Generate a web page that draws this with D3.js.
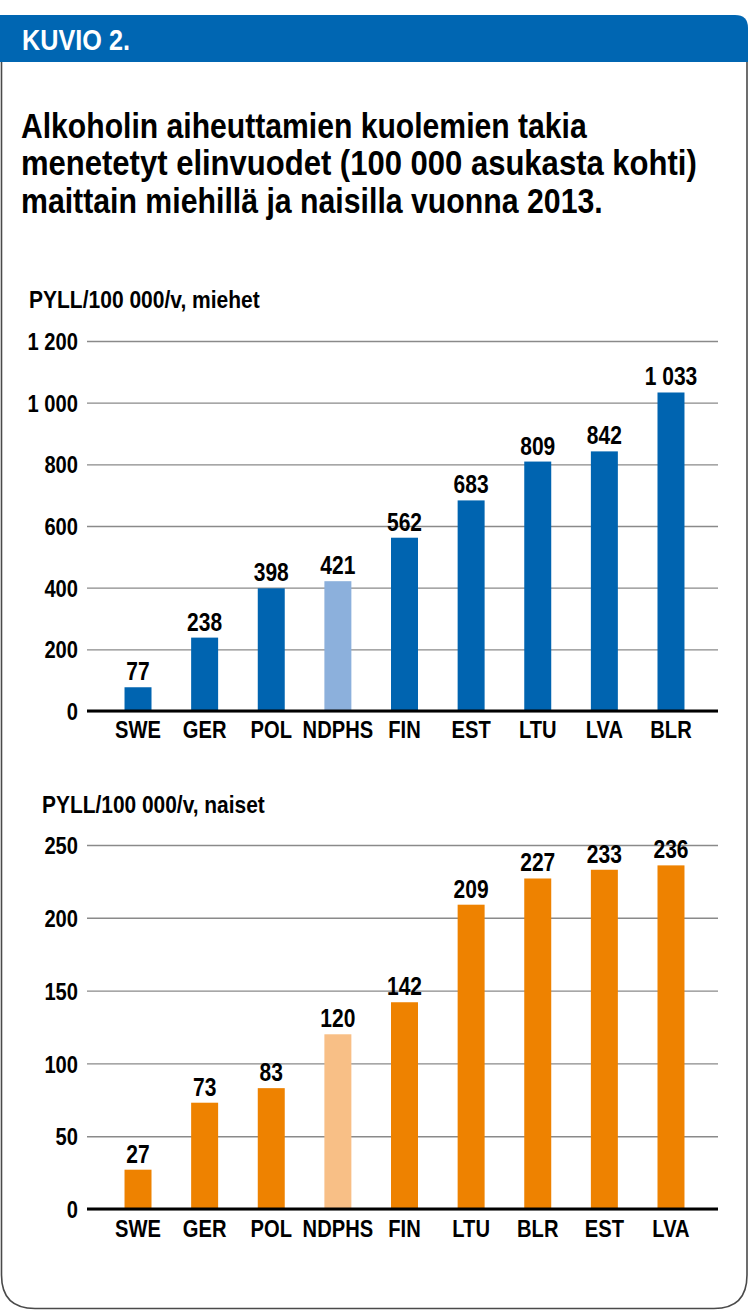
<!DOCTYPE html>
<html><head><meta charset="utf-8">
<script src="https://cdn.jsdelivr.net/npm/d3@7"></script>
<style>
html,body{margin:0;padding:0;background:#fff;}
svg{display:block;}
text{font-family:"Liberation Sans","Arimo",Arial,sans-serif;font-weight:bold;}
</style></head>
<body>
<svg id="c" width="749" height="1314"></svg>
<script>
const header = "KUVIO 2.";
const titleLines = ["Alkoholin aiheuttamien kuolemien takia","menetetyt elinvuodet (100 000 asukasta kohti)","maittain miehillä ja naisilla vuonna 2013."];
const menTitle = "PYLL/100 000/v, miehet";
const menCats = ["SWE","GER","POL","NDPHS","FIN","EST","LTU","LVA","BLR"];
const menVals = [77,238,398,421,562,683,809,842,1033];
const menTicks = [0,200,400,600,800,1000,1200];
const womenTitle = "PYLL/100 000/v, naiset";
const womenCats = ["SWE","GER","POL","NDPHS","FIN","LTU","BLR","EST","LVA"];
const womenVals = [27,73,83,120,142,209,227,233,236];
const womenTicks = [0,50,100,150,200,250];
const highlight = "NDPHS";

const svg = d3.select("#c");
const fmt = d3.formatLocale({decimal:",",thousands:"\u00a0",grouping:[3],currency:["","€"]}).format(",d");
const SX = 0.84;
function squeeze(sel, sx){
  sel.each(function(){
    const t = d3.select(this);
    const x = +(t.attr("x")||0);
    t.attr("x", x/sx).attr("transform", `scale(${sx},1)`);
  });
}
function fitWidth(sel, w){
  sel.each(function(){
    const sx = w/this.getComputedTextLength();
    squeeze(d3.select(this), sx);
  });
}

// card frame
svg.append("path")
  .attr("d","M1.5,62 L1.5,1275 Q1.5,1308.5 35,1308.5 L714,1308.5 Q747,1308.5 747,1275 L747,62")
  .attr("fill","none").attr("stroke","#4a4a4a").attr("stroke-width",1.6);
svg.append("path")
  .attr("d","M0,15 L735,15 Q748,15 748,28 L748,62 L0,62 Z")
  .attr("fill","#0066b2");
const ht = svg.append("text").attr("x",22).attr("y",50).attr("fill","#fff")
  .style("font-size","30px").text(header);
fitWidth(ht, 108);

const titleW = [566,676,582];
svg.append("g").selectAll("text").data(titleLines).join("text")
  .attr("x",21).attr("y",(d,i)=>138+i*37.5).attr("fill","#000")
  .style("font-size","35px")
  .text(d=>d)
  .each(function(d,i){ fitWidth(d3.select(this), titleW[i]); });

function panel(cats, vals, ticks, title, titleX, titleY, titleW, y0, y1, col, colLight, catY){
  const x = d3.scaleBand().domain(cats).range([104.7,704.3]).paddingInner(0.595).paddingOuter(0.2975);
  const y = d3.scaleLinear().domain([0,ticks[ticks.length-1]]).range([y0,y1]);
  const gx0 = 87, gx1 = 718;
  const ax = svg.append("g").attr("transform",`translate(${gx0},0)`)
    .call(d3.axisLeft(y).tickValues(ticks).tickFormat(fmt).tickSize(-(gx1-gx0)).tickPadding(9));
  ax.select(".domain").remove();
  ax.selectAll(".tick line").attr("stroke","#8a8a8a").attr("stroke-width",1.4);
  const tt = ax.selectAll(".tick text").attr("fill","#000").style("font-size","24px").attr("dy","0.36em");
  squeeze(tt, SX);
  svg.append("g").selectAll("rect").data(vals).join("rect")
    .attr("x",(d,i)=>x(cats[i])).attr("width",x.bandwidth())
    .attr("y",d=>y(d)).attr("height",d=>y(0)-y(d))
    .attr("fill",(d,i)=>cats[i]===highlight?colLight:col);
  svg.append("line").attr("x1",gx0).attr("x2",gx1).attr("y1",y(0)).attr("y2",y(0))
    .attr("stroke","#000").attr("stroke-width",3.2);
  const vl = svg.append("g").selectAll("text").data(vals).join("text")
    .attr("x",(d,i)=>x(cats[i])+x.bandwidth()/2).attr("y",d=>y(d)-7)
    .attr("text-anchor","middle").style("font-size","25px").attr("fill","#000").text(d=>fmt(d));
  squeeze(vl, SX);
  const xa = svg.append("g").attr("transform",`translate(0,${catY})`)
    .call(d3.axisBottom(x).tickSize(0).tickPadding(0));
  xa.select(".domain").remove();
  const ct = xa.selectAll(".tick text").attr("fill","#000").style("font-size","24px").attr("dy","0");
  squeeze(ct, SX);
  const at = svg.append("text").attr("x",titleX).attr("y",titleY).style("font-size","23px").attr("fill","#000").text(title);
  fitWidth(at, titleW);
}
panel(menCats, menVals, menTicks, menTitle, 29, 308, 231, 711, 341, "#0064b0", "#8cb0dc", 738);
panel(womenCats, womenVals, womenTicks, womenTitle, 42, 813, 223, 1209, 845, "#ee8200", "#f8bf86", 1237);
</script>
</body></html>
